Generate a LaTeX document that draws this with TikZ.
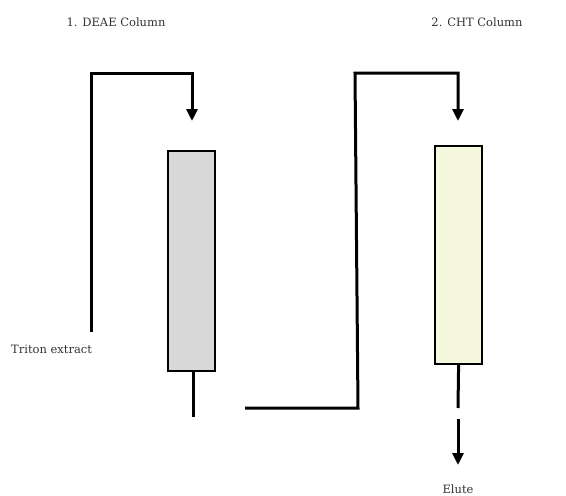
\documentclass[tikz,border=0pt]{standalone}
\usepackage{fontspec}
\setmainfont{DejaVu Serif}
\usetikzlibrary{arrows.meta}
\definecolor{deaefill}{HTML}{D8D8D8}
\definecolor{chtfill}{HTML}{F6F8DE}
\begin{document}
\begin{tikzpicture}[x=1pt,y=-1pt,
  column/.style={draw=black,line width=2.2pt,minimum width=47pt,inner sep=0pt,anchor=north west},
  pipe/.style={line width=3pt,line join=miter},
  flow/.style={pipe,-{Triangle[width=11pt,length=12pt]}},
  caption/.style={font=\fontsize{11.5}{13}\selectfont,text=black!80,inner sep=0pt}]
\useasboundingbox (0,0) rectangle (566,496);

% column bodies
\node[column,fill=deaefill,minimum height=220pt] (deae) at (167,150) {};
\node[column,fill=chtfill,minimum height=218pt] (cht) at (434,145) {};

% labels
\node[caption] (t1) at (116,22) {1. DEAE Column};
\node[caption] (t2) at (477,22) {2. CHT Column};
\node[caption,anchor=west] (triton) at (11,349) {Triton extract};
\node[caption] (elute) at (458,489) {Elute};

% routing points
\coordinate (in1) at (91,332);
\coordinate (c1a) at (91,73);
\coordinate (c1b) at (192,73);
\coordinate (tip1) at (192,121);
\coordinate (out1) at (193,417);
\coordinate (j1) at (245,408);
\coordinate (j2) at (358,408);
\coordinate (j3) at (355,73);
\coordinate (j4) at (458,73);
\coordinate (tip2) at (458,121);
\coordinate (out2) at (458,408);
\coordinate (e1) at (458,419);
\coordinate (e2) at (458,465);

% feed into the first column
\draw[flow] (in1) -- (c1a) -- (c1b) -- (tip1);
% outlet of the first column
\draw[pipe] (deae.south -| out1) -- (out1);
% transfer line to the second column
\draw[flow] (j1) -- (j2) -- (j3) -- (j4) -- (tip2);
% outlet of the second column
\draw[pipe] (cht.south) -- (out2);
\draw[flow] (e1) -- (e2);
\end{tikzpicture}
\end{document}
